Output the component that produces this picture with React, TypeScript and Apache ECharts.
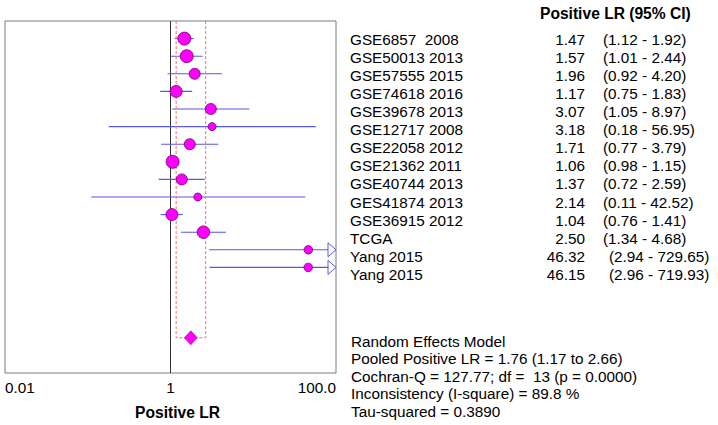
import React, { useEffect, useRef } from "react";
import * as echarts from "echarts";

const studies = [
  "GSE6857  2008",
  "GSE50013 2013",
  "GSE57555 2015",
  "GSE74618 2016",
  "GSE39678 2013",
  "GSE12717 2008",
  "GSE22058 2012",
  "GSE21362 2011",
  "GSE40744 2013",
  "GES41874 2013",
  "GSE36915 2012",
  "TCGA",
  "Yang 2015",
  "Yang 2015",
];
const estimates = [1.47, 1.57, 1.96, 1.17, 3.07, 3.18, 1.71, 1.06, 1.37, 2.14, 1.04, 2.5, 46.32, 46.15];
const lowerCI = [1.12, 1.01, 0.92, 0.75, 1.05, 0.18, 0.77, 0.98, 0.72, 0.11, 0.76, 1.34, 2.94, 2.96];
const upperCI = [1.92, 2.44, 4.2, 1.83, 8.97, 56.95, 3.79, 1.15, 2.59, 42.52, 1.41, 4.68, 729.65, 719.93];
const markerSizes = [13, 13, 11, 12, 11, 8, 11, 13, 11, 8, 12, 12.5, 8.5, 8.5];

const pooled = 1.76;
const pooledLow = 1.17;
const pooledHigh = 2.66;

const tickLabels: Record<string, string> = { "0.01": "0.01", "1": "1", "100": "100.0" };

const summaryLines = [
  "Random Effects Model",
  "Pooled Positive LR = 1.76 (1.17 to 2.66)",
  "Cochran-Q = 127.77; df =  13 (p = 0.0000)",
  "Inconsistency (I-square) = 89.8 %",
  "Tau-squared = 0.3890",
];

const FONT = "'Liberation Sans', Arial, sans-serif";
const FS = 15.3;

export default function App() {
  const ref = useRef<HTMLDivElement>(null);
  useEffect(() => {
    if (!ref.current) return;
    const chart = echarts.init(ref.current, null, { renderer: "svg" });
    const gridTop = 21;
    const gridBottom = 383;
    const yMax = 20;
    const rowPx = (gridBottom - gridTop) / yMax;
    const pooledRow = 18;

    const ciData = studies.map((_, i) => [estimates[i], lowerCI[i], upperCI[i], i + 1]);
    const pointData = studies.map((_, i) => [estimates[i], i + 1, markerSizes[i]]);

    const graphics: any[] = [];
    graphics.push({
      type: "text",
      x: 540,
      y: 13,
      style: { text: "Positive LR (95% CI)", font: `bold 15.6px ${FONT}`, fill: "#000", verticalAlign: "middle" },
    });
    studies.forEach((s, i) => {
      const y = gridTop + (i + 1) * rowPx;
      graphics.push({
        type: "text",
        x: 350,
        y,
        style: { text: s, font: `${FS}px ${FONT}`, fill: "#000", verticalAlign: "middle", whiteSpace: "pre" },
      });
      graphics.push({
        type: "text",
        x: 585,
        y,
        style: { text: estimates[i].toFixed(2), font: `${FS}px ${FONT}`, fill: "#000", align: "right", verticalAlign: "middle" },
      });
      const wide = upperCI[i] >= 100;
      graphics.push({
        type: "text",
        x: wide ? 609 : 603,
        y,
        style: {
          text: `(${lowerCI[i].toFixed(2)} - ${upperCI[i].toFixed(2)})`,
          font: `${FS}px ${FONT}`,
          fill: "#000",
          verticalAlign: "middle",
        },
      });
    });
    summaryLines.forEach((t, i) => {
      graphics.push({
        type: "text",
        x: 351,
        y: 341 + i * 17.6,
        style: { text: t, font: `${FS}px ${FONT}`, fill: "#000", verticalAlign: "middle", whiteSpace: "pre" },
      });
    });

    chart.setOption({
      animation: false,
      grid: {
        left: 5,
        right: 718 - 336,
        top: gridTop,
        bottom: 425 - gridBottom,
        show: true,
        borderColor: "#7a7a7a",
        borderWidth: 1,
        backgroundColor: "#fff",
      },
      xAxis: {
        type: "log",
        logBase: 10,
        min: 0.01,
        max: 100,
        axisLine: { show: false },
        axisTick: { show: false },
        splitLine: { show: false },
        minorTick: { show: false },
        axisLabel: {
          show: true,
          margin: 7,
          color: "#000",
          fontSize: FS,
          fontFamily: FONT,
          showMinLabel: true,
          showMaxLabel: true,
          alignMinLabel: "left",
          alignMaxLabel: "right",
          formatter: (v: number) => {
            const k = String(Math.round(v * 1000) / 1000);
            return tickLabels[k] ?? "";
          },
        },
        name: "Positive LR",
        nameLocation: "middle",
        nameGap: 31,
        nameTextStyle: { fontWeight: "bold", fontSize: 15.6, fontFamily: FONT, color: "#000", padding: [0, 0, 0, 14] },
      },
      yAxis: {
        type: "value",
        min: 0,
        max: yMax,
        inverse: true,
        show: false,
        splitLine: { show: false },
      },
      series: [
        {
          type: "line",
          data: [
            [1, 0],
            [1, yMax],
          ],
          symbol: "none",
          lineStyle: { color: "#333", width: 1 },
          silent: true,
          z: 1,
        },
        {
          type: "custom",
          data: ciData,
          clip: false,
          z: 2,
          renderItem: (params: any, api: any) => {
            const lo = api.value(1);
            const hi = api.value(2);
            const row = api.value(3);
            const cs = params.coordSys;
            const right = cs.x + cs.width;
            const p1 = api.coord([lo, row]);
            const color = "#5858e6";
            if (hi > 100) {
              const tipBase = right - 8;
              return {
                type: "group",
                children: [
                  {
                    type: "line",
                    shape: { x1: p1[0], y1: p1[1], x2: tipBase, y2: p1[1] },
                    style: { stroke: color, lineWidth: 1.1 },
                  },
                  {
                    type: "polygon",
                    shape: {
                      points: [
                        [tipBase, p1[1] - 7],
                        [right, p1[1]],
                        [tipBase, p1[1] + 7],
                      ],
                    },
                    style: { stroke: color, fill: "#fff", lineWidth: 1 },
                  },
                ],
              };
            }
            const p2 = api.coord([hi, row]);
            return {
              type: "line",
              shape: { x1: p1[0], y1: p1[1], x2: p2[0], y2: p2[1] },
              style: { stroke: color, lineWidth: 1.1 },
            };
          },
        },
        {
          type: "line",
          data: [
            [pooledLow, 0],
            [pooledLow, pooledRow],
            [pooledHigh, pooledRow],
            [pooledHigh, 0],
          ],
          symbol: "none",
          lineStyle: { color: "#ff6a6a", width: 1, type: [3, 2] },
          silent: true,
          z: 3,
        },
        {
          type: "scatter",
          data: pointData,
          symbol: "circle",
          symbolSize: (v: number[]) => v[2],
          itemStyle: { color: "#ff00ff", borderColor: "#6a006a", borderWidth: 0.8, opacity: 1 },
          z: 4,
        },
        {
          type: "scatter",
          data: [[pooled, pooledRow]],
          symbol: "diamond",
          symbolSize: [13, 14],
          itemStyle: { color: "#ff00ff", borderColor: "#9a009a", borderWidth: 0.6, opacity: 1 },
          z: 5,
        },
      ],
      graphic: graphics,
    });
    return () => chart.dispose();
  }, []);
  return <div ref={ref} style={{ width: 718, height: 425, position: "absolute", left: 0, top: 0 }} />;
}
